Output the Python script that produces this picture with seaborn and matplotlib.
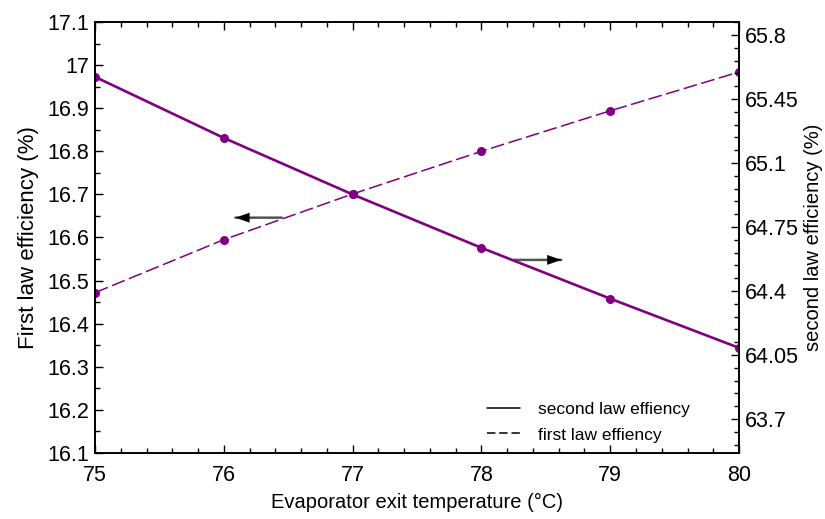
import matplotlib
matplotlib.use("Agg")
import matplotlib.pyplot as plt
from matplotlib.lines import Line2D
from matplotlib.ticker import MultipleLocator, AutoMinorLocator
import seaborn as sns
import pandas as pd

# Evaporator exit temperature (°C)
temperature = [75, 76, 77, 78, 79, 80]
# First law efficiency (%), left axis
first_law = [16.472, 16.595, 16.701, 16.800, 16.894, 16.984]
# Second law efficiency (%), right axis
second_law = [65.571, 65.237, 64.928, 64.636, 64.358, 64.089]

left_ticks = [16.1, 16.2, 16.3, 16.4, 16.5, 16.6, 16.7, 16.8, 16.9, 17.0, 17.1]
left_tick_labels = ["16.1", "16.2", "16.3", "16.4", "16.5", "16.6", "16.7",
                    "16.8", "16.9", "17", "17.1"]
right_ticks = [63.7, 64.05, 64.4, 64.75, 65.1, 65.45, 65.8]
right_tick_labels = ["63.7", "64.05", "64.4", "64.75", "65.1", "65.45", "65.8"]

df = pd.DataFrame({"T": temperature, "first": first_law, "second": second_law})

sns.set_style("ticks")
plt.rcParams["font.family"] = ["Liberation Sans", "DejaVu Sans"]
plt.rcParams["text.color"] = "black"
plt.rcParams["axes.labelcolor"] = "black"
plt.rcParams["xtick.color"] = "black"
plt.rcParams["ytick.color"] = "black"

purple = "#800080"

fig, ax = plt.subplots(figsize=(8.25, 5.19), dpi=100)
fig.subplots_adjust(left=0.1152, right=0.8958, top=0.9576, bottom=0.1272)
ax2 = ax.twinx()

sns.lineplot(data=df, x="T", y="first", ax=ax, color=purple, lw=1.1,
             marker="o", markersize=6.5, markeredgewidth=0,
             linestyle=(0, (9, 3)))
sns.lineplot(data=df, x="T", y="second", ax=ax2, color=purple, lw=1.9,
             marker="o", markersize=6.5, markeredgewidth=0)

ax.set_xlim(75, 80)
ax.set_ylim(16.1, 17.1)
ax2.set_ylim(63.514, 65.871)

ax.xaxis.set_major_locator(MultipleLocator(1))
ax.xaxis.set_minor_locator(AutoMinorLocator(5))
ax.set_yticks(left_ticks)
ax.set_yticklabels(left_tick_labels)
ax.yaxis.set_minor_locator(AutoMinorLocator(2))
ax2.set_yticks(right_ticks)
ax2.set_yticklabels(right_tick_labels)
ax2.yaxis.set_minor_locator(AutoMinorLocator(5))

for a in (ax, ax2):
    for s in a.spines.values():
        s.set_visible(True)
        s.set_color("black")
        s.set_linewidth(1.2)

ax.tick_params(axis="x", which="both", direction="in", top=True, bottom=True,
               labelsize=15.5, pad=9, colors="black")
ax.tick_params(axis="y", which="both", direction="in", left=True, right=False,
               labelsize=15.5, pad=4, colors="black")
ax.tick_params(which="major", length=6, width=1)
ax.tick_params(which="minor", length=3.5, width=1)
ax2.tick_params(axis="y", which="both", direction="in", right=True, left=False,
                labelsize=15.5, pad=4, colors="black")
ax2.tick_params(which="major", length=6, width=1)
ax2.tick_params(which="minor", length=3.5, width=1)

ax.set_xlabel("Evaporator exit temperature (°C)", fontsize=14.5, labelpad=5)
ax.set_ylabel("First law efficiency (%)", fontsize=16, labelpad=6)
ax2.set_ylabel("second law efficiency (%)", fontsize=14.5, labelpad=4)

# Arrows pointing to the axis each curve belongs to: grey shaft, black head
def axis_arrow(x_tail, x_head, y):
    ax.annotate("", xy=(x_head, y), xytext=(x_tail, y),
                arrowprops=dict(arrowstyle="-", color="#555555", lw=1.8,
                                shrinkA=0, shrinkB=0), zorder=5)
    x_base = x_head + (x_tail - x_head) * 0.4
    ax.annotate("", xy=(x_head, y), xytext=(x_base, y),
                arrowprops=dict(arrowstyle="-|>,head_length=1.0,head_width=0.35",
                                color="black", lw=0.1, shrinkA=0, shrinkB=0),
                zorder=6)

axis_arrow(76.45, 76.09, 16.646)
axis_arrow(78.25, 78.62, 16.548)

handles = [Line2D([], [], color="black", lw=1.1),
           Line2D([], [], color="black", lw=1.1, linestyle=(0, (5.5, 2.5)))]
ax2.legend(handles, ["second law effiency", "first law effiency"],
           loc="lower left", bbox_to_anchor=(0.585, -0.012), frameon=False,
           fontsize=12.5, handlelength=1.9, handletextpad=1.0, labelspacing=0.62)

ax.grid(False)
ax2.grid(False)

fig.savefig("out.png", dpi=100)
